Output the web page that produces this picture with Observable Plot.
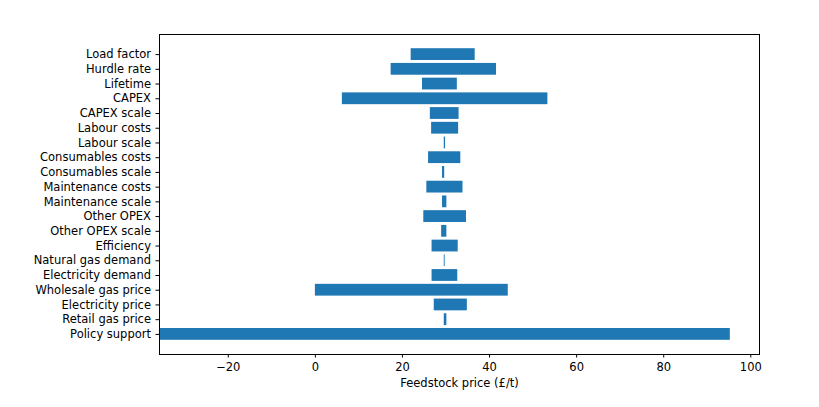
<!DOCTYPE html>
<html>
<head>
<meta charset="utf-8">
<script src="https://cdn.jsdelivr.net/npm/d3@7"></script>
<script src="https://cdn.jsdelivr.net/npm/@observablehq/plot@0.6"></script>
<style>
  html, body { margin: 0; padding: 0; background: #fff; }
  #chart svg { display: block; }
</style>
</head>
<body>
<div id="chart"></div>
<script>
const categories = [
  "Load factor", "Hurdle rate", "Lifetime", "CAPEX", "CAPEX scale",
  "Labour costs", "Labour scale", "Consumables costs", "Consumables scale",
  "Maintenance costs", "Maintenance scale", "Other OPEX", "Other OPEX scale",
  "Efficiency", "Natural gas demand", "Electricity demand",
  "Wholesale gas price", "Electricity price", "Retail gas price", "Policy support"
];
const lowValues = [
  22.0, 17.4, 24.6, 6.2, 26.4,
  26.7, 29.6, 26.0, 29.2,
  25.6, 29.2, 24.9, 29.0,
  26.8, 29.6, 26.8,
  0.0, 27.3, 29.6, -35.8
];
const highValues = [
  36.7, 41.6, 32.6, 53.4, 33.0,
  32.9, 29.9, 33.4, 29.7,
  33.9, 30.2, 34.7, 30.2,
  32.8, 29.8, 32.7,
  44.3, 34.9, 30.2, 95.3
];
const xTicks = [-20, 0, 20, 40, 60, 80, 100];
const xLabel = "Feedstock price (£/t)";

const data = categories.map((c, i) => ({category: c, low: lowValues[i], high: highValues[i]}));

const chart = Plot.plot({
  width: 819,
  height: 407,
  marginLeft: 159,
  marginRight: 60,
  marginTop: 34,
  marginBottom: 53,
  style: {fontFamily: "DejaVu Sans", fontSize: "11.5px", color: "#000", background: "#fff"},
  x: {domain: [-35.8, 102], ticks: xTicks},
  y: {domain: categories, paddingInner: 0.2, paddingOuter: 0.965, round: false},
  marks: [
    Plot.barX(data, {x1: "low", x2: "high", y: "category", fill: "#1f77b4", clip: true}),
    Plot.frame({stroke: "#000", strokeWidth: 1}),
    Plot.axisX({
      ticks: xTicks,
      tickSize: 3.5,
      tickPadding: 5,
      tickFormat: d => d < 0 ? "\u2212" + Math.abs(d) : String(d),
      label: xLabel,
      labelAnchor: "center",
      labelArrow: "none",
      labelOffset: 32,
      fontSize: "11.5px"
    }),
    Plot.axisY({
      tickSize: 3.5,
      tickPadding: 5,
      label: null,
      fontSize: "11.5px"
    })
  ]
});
document.getElementById("chart").appendChild(chart);
</script>
</body>
</html>
